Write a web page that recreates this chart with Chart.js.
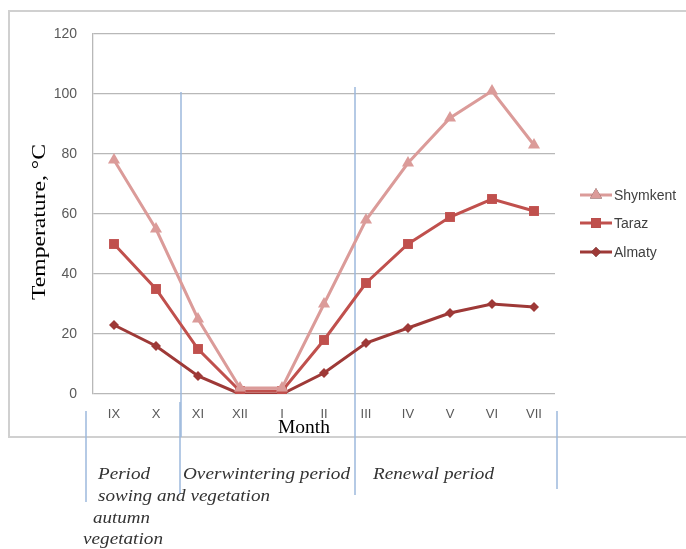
<!DOCTYPE html>
<html>
<head>
<meta charset="utf-8">
<script src="https://cdn.jsdelivr.net/npm/chart.js@4"></script>
<style>
  html, body { margin: 0; padding: 0; background: #fff; }
  #wrap { width: 686px; height: 549px; }
</style>
</head>
<body>
<div id="wrap"><canvas id="chart" width="686" height="549"></canvas></div>
<script>
// --- DATA ---
const months = ['IX', 'X', 'XI', 'XII', 'I', 'II', 'III', 'IV', 'V', 'VI', 'VII'];
const shymkent = [78, 55, 25, 2, 2, 30, 58, 77, 92, 101, 83];
const taraz = [50, 35, 15, 1, 1, 18, 37, 50, 59, 65, 61];
const almaty = [23, 16, 6, 0, 0, 7, 17, 22, 27, 30, 29];
const yTicks = [0, 20, 40, 60, 80, 100, 120];

const seriesNames = ['Shymkent', 'Taraz', 'Almaty'];
const seriesColors = ['#DB9B99', '#C0504D', '#9E3937'];
const seriesMarkers = ['triangle', 'rect', 'rectRot'];
const markerSizes = [7, 7, 5];

const periods = [
  { text: 'Period', x: 98, y: 475, w: 52 },
  { text: 'sowing and vegetation', x: 98, y: 497, w: 172 },
  { text: 'autumn', x: 93, y: 519, w: 57 },
  { text: 'vegetation', x: 83, y: 540, w: 80 },
  { text: 'Overwintering period', x: 183, y: 475, w: 167 },
  { text: 'Renewal period', x: 373, y: 475, w: 121 }
];
// blue divider lines [x, yTop, yBottom]
const dividers = [[181, 92, 437], [180, 402, 494], [86, 411, 502], [355, 87, 495], [557, 411, 489]];

// draw text stretched to a given width
function fitText(ctx, text, x, y, w) {
  const m = ctx.measureText(text).width;
  ctx.save();
  ctx.translate(x, y);
  ctx.scale(w / m, 1);
  ctx.fillText(text, 0, 0);
  ctx.restore();
}

const extras = {
  id: 'extras',
  beforeDraw(chart) {
    const ctx = chart.ctx;
    ctx.save();
    ctx.strokeStyle = '#D0D0D0';
    ctx.lineWidth = 2;
    ctx.beginPath();
    ctx.moveTo(690, 11); ctx.lineTo(9, 11); ctx.lineTo(9, 437); ctx.lineTo(690, 437);
    ctx.stroke();
    ctx.restore();
  },
  beforeDatasetsDraw(chart) {
    const ctx = chart.ctx;
    ctx.save();
    ctx.strokeStyle = '#9DB9DC';
    ctx.lineWidth = 1.5;
    dividers.forEach(d => {
      ctx.beginPath();
      ctx.moveTo(d[0], d[1]);
      ctx.lineTo(d[0], d[2]);
      ctx.stroke();
    });
    ctx.restore();
  },
  afterDraw(chart) {
    const ctx = chart.ctx;
    ctx.save();
    // axis titles
    ctx.fillStyle = '#000';
    ctx.textBaseline = 'middle';
    ctx.font = '18px "Liberation Serif"';
    fitText(ctx, 'Month', 278, 428, 52);
    ctx.save();
    ctx.translate(40, 300);
    ctx.rotate(-Math.PI / 2);
    ctx.font = '18px "Liberation Serif"';
    fitText(ctx, 'Temperature, °C', 0, 0, 156);
    ctx.restore();

    // period labels
    ctx.fillStyle = '#333';
    ctx.font = 'italic 17px "Liberation Serif"';
    periods.forEach(p => fitText(ctx, p.text, p.x, p.y, p.w));

    // legend
    ctx.font = '14px "Liberation Sans"';
    const legendY = [195, 223, 252];
    seriesNames.forEach((name, i) => {
      const y = legendY[i];
      ctx.strokeStyle = seriesColors[i];
      ctx.lineWidth = 3;
      ctx.beginPath();
      ctx.moveTo(580, y); ctx.lineTo(612, y);
      ctx.stroke();
      Chart.helpers.drawPoint(ctx, {
        pointStyle: seriesMarkers[i], radius: markerSizes[i], rotation: 0, borderWidth: 0
      }, 596, y);
      ctx.fillStyle = seriesColors[i];
      ctx.fill();
      ctx.fillStyle = '#404040';
      ctx.textAlign = 'left';
      ctx.fillText(name, 614, y + 1);
    });
    ctx.restore();
  }
};

new Chart(document.getElementById('chart'), {
  type: 'line',
  data: {
    labels: months,
    datasets: [shymkent, taraz, almaty].map((vals, i) => ({
      label: seriesNames[i],
      data: vals,
      borderColor: seriesColors[i],
      backgroundColor: seriesColors[i],
      borderWidth: 3,
      pointStyle: seriesMarkers[i],
      pointRadius: markerSizes[i],
      pointBorderWidth: 0,
      tension: 0
    }))
  },
  options: {
    responsive: false,
    animation: false,
    layout: { padding: { left: 0, top: 34, right: 131, bottom: 115 } },
    plugins: { legend: { display: false }, tooltip: { enabled: false } },
    scales: {
      x: {
        offset: true,
        grid: { display: false, drawTicks: false },
        border: { display: false },
        ticks: { padding: 13, color: '#595959', font: { family: 'Liberation Sans', size: 13 } },
        afterFit: s => { s.height = 40; }
      },
      y: {
        min: 0,
        max: 120,
        afterBuildTicks: s => { s.ticks = yTicks.map(v => ({ value: v })); },
        grid: { color: '#B8B8B8', lineWidth: 1.3, drawTicks: false },
        border: { display: true, color: '#B8B8B8', width: 1.3 },
        ticks: { padding: 16, color: '#595959', font: { family: 'Liberation Sans', size: 14 } },
        afterFit: s => { s.width = 93; }
      }
    }
  },
  plugins: [extras]
});
</script>
</body>
</html>
